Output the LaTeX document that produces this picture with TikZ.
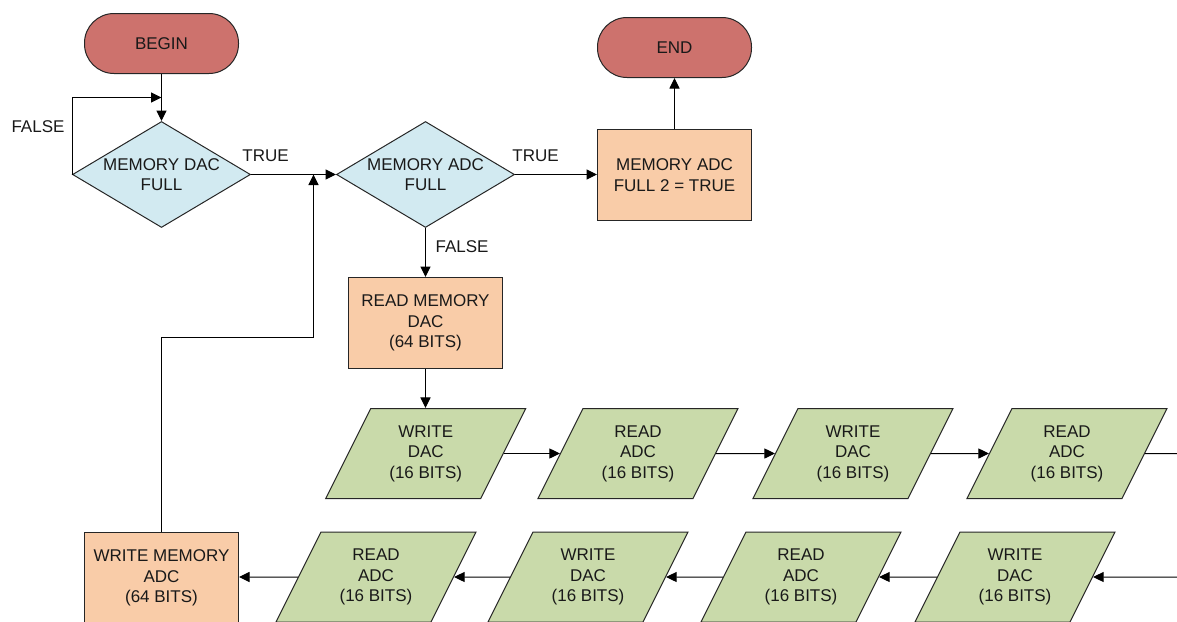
\documentclass[tikz,border=0pt]{standalone}
\usepackage{fontspec}
\setmainfont{Liberation Sans}
\usetikzlibrary{shapes.geometric,arrows.meta}
\definecolor{termred}{RGB}{205,114,109}
\definecolor{decblue}{RGB}{210,234,241}
\definecolor{procpeach}{RGB}{249,204,168}
\definecolor{iogreen}{RGB}{201,218,170}
\newcommand{\iobox}[1]{\parbox[c][90pt][c]{110pt}{\centering #1}}
\tikzset{
  txt/.style={font=\fontsize{17}{20.5}\selectfont, align=center, text=black!90},
  shp/.style={draw=black!85, line width=1pt, txt},
  term/.style={shp, rectangle, rounded corners=29.5pt, fill=termred, minimum width=154pt, minimum height=60pt, inner sep=0pt},
  decide/.style={shp, diamond, fill=decblue, minimum width=178pt, minimum height=106pt, inner sep=0pt},
  proc/.style={shp, rectangle, fill=procpeach, minimum width=154pt, minimum height=91pt, inner sep=0pt},
  io/.style={shp, trapezium, trapezium left angle=63.43, trapezium right angle=116.57,
     trapezium stretches body, fill=iogreen, minimum width=194pt, inner sep=0pt},
  conn/.style={line width=1pt, draw=black},
  arr/.style={conn, -{Triangle[length=10.5pt,width=10pt]}},
  lbl/.style={txt, inner sep=0pt}
}
\begin{document}
\begin{tikzpicture}[x=1pt,y=-1pt]
\useasboundingbox (0,0) rectangle (1177,621);
% nodes
\node[term] (begin) at (161.5,43.5) {BEGIN};
\node[term] (endn) at (674.5,47.5) {END};
\node[decide, label={[txt]center:MEMORY DAC\\FULL}] (d1) at (161.5,174.5) {};
\node[decide, label={[txt]center:MEMORY ADC\\FULL}] (d2) at (425.5,174.5) {};
\node[proc] (full2) at (674.5,175) {MEMORY ADC\\FULL 2 = TRUE};
\node[proc] (rmd) at (425.5,323) {READ MEMORY\\DAC\\(64 BITS)};
\node[proc] (wma) at (161.5,578) {WRITE MEMORY\\ADC\\(64 BITS)};
% top row
\node[io] (p1) at (425.75,453.5) {\iobox{WRITE\\DAC\\(16 BITS)}};
\node[io] (p2) at (638,453.5) {\iobox{READ\\ADC\\(16 BITS)}};
\node[io] (p3) at (853,453.5) {\iobox{WRITE\\DAC\\(16 BITS)}};
\node[io] (p4) at (1067,453.5) {\iobox{READ\\ADC\\(16 BITS)}};
% bottom row
\node[io] (q1) at (376,577) {\iobox{READ\\ADC\\(16 BITS)}};
\node[io] (q2) at (588,577) {\iobox{WRITE\\DAC\\(16 BITS)}};
\node[io] (q3) at (801,577) {\iobox{READ\\ADC\\(16 BITS)}};
\node[io] (q4) at (1015,577) {\iobox{WRITE\\DAC\\(16 BITS)}};
% helper coordinates
\coordinate (loopc) at (161.5,97.5);
\coordinate (j) at (313.5,174.5);
\coordinate (ret) at (313.5,337.5);
\coordinate (outr) at (1180,453.5);
\coordinate (inr) at (1180,577);
% labels
\node[lbl] (lf1) at (38,127) {FALSE};
\node[lbl] (lt1) at (265.5,156) {TRUE};
\node[lbl] (lt2) at (535.5,156) {TRUE};
\node[lbl] (lf2) at (462,247) {FALSE};
% connectors
\draw[arr] (begin.south) -- (d1.north);
\draw[arr] (d1.west) |- (loopc);
\draw[arr] (d1.east) -- (d2.west);
\draw[arr] (wma.north) |- (ret) -- (j);
\draw[arr] (d2.east) -- (d2.east -| full2.west);
\draw[arr] (full2.north) -- (endn.south);
\draw[arr] (d2.south) -- (rmd.north);
\draw[arr] (rmd.south) -- (rmd.south |- p1.north);
\draw[arr] (p1) -- (p2);
\draw[arr] (p2) -- (p3);
\draw[arr] (p3) -- (p4);
\draw[conn] (p4) -- (outr);
\draw[arr] (inr) -- (q4);
\draw[arr] (q4) -- (q3);
\draw[arr] (q3) -- (q2);
\draw[arr] (q2) -- (q1);
\draw[arr] (q1) -- (q1 -| wma.east);
\end{tikzpicture}
\end{document}
